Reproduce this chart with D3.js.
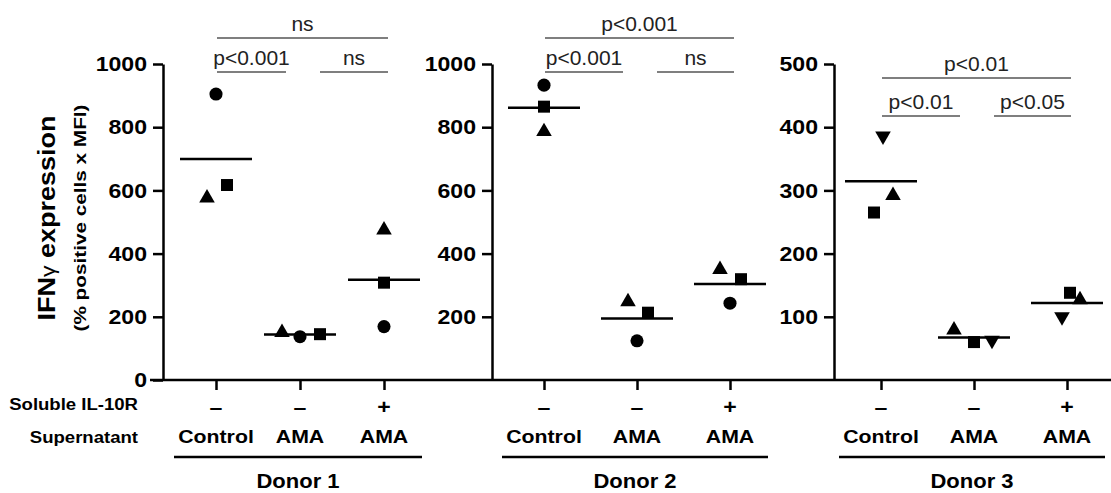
<!DOCTYPE html>
<html>
<head>
<meta charset="utf-8">
<script src="https://cdn.jsdelivr.net/npm/d3@7"></script>
<style>
  body { margin: 0; background: #fff; }
  text { font-family: "Liberation Sans", Arial, Helvetica, sans-serif; fill: #000; }
</style>
</head>
<body>
<script>
// =================== Data ======================
const donors = ["Donor 1", "Donor 2", "Donor 3"];
const conditions = ["ctrl", "ama", "amaR"];
const supernatantLabels = ["Control", "AMA", "AMA"];
const solubleLabels = ["\u2013", "\u2013", "+"];

const yMax = [1000, 1000, 500];
const yTicks = [
  [0, 200, 400, 600, 800, 1000],
  [200, 400, 600, 800, 1000],
  [100, 200, 300, 400, 500]
];

// values per marker, in condition order (Control, AMA, AMA + IL-10R)
const d1Circle   = [905, 137, 169];
const d1Square   = [617, 145, 308];
const d1Triangle = [576, 150, 475];
const d2Circle   = [933, 124, 243];
const d2Square   = [865, 213, 319];
const d2Triangle = [786, 248, 350];
const d3Down     = [386, 63, 100];
const d3Square   = [265, 60, 138];
const d3Triangle = [292, 79, 127];

const donorSeries = [
  [{shape: "circle", values: d1Circle}, {shape: "square", values: d1Square}, {shape: "triangle", values: d1Triangle}],
  [{shape: "circle", values: d2Circle}, {shape: "square", values: d2Square}, {shape: "triangle", values: d2Triangle}],
  [{shape: "down", values: d3Down}, {shape: "square", values: d3Square}, {shape: "triangle", values: d3Triangle}]
];

// significance: pairs of condition indices and their labels per donor
const sigPairs = [[0, 1], [1, 2], [0, 2]];
const sigLabels = [
  ["p<0.001", "ns", "ns"],
  ["p<0.001", "ns", "p<0.001"],
  ["p<0.01", "p<0.05", "p<0.01"]
];

// =================== Layout ======================
const W = 1111, H = 493;
const yBottom = 380, yTop = 64;
// [axis x, first category x, last category x]
const panelX = [[163, 216, 384], [492, 544, 730], [834, 881, 1067]];
// y of bracket lines (lower pair, lower pair, top) per panel
const sigLineY = [[72, 72, 38], [72, 72, 38], [116, 116, 78]];
// horizontal scatter of markers around the category, per series
const jitter = [
  [[0, 0, 0], [11, 20, 0], [-9, -18, 0]],
  [[0, 0, 0], [0, 11, 11], [0, -9, -10]],
  [[2, 18, -5], [-7, 0, 3], [12, -20, 13]]
];

const symbolType = {
  circle: d3.symbolCircle, square: d3.symbolSquare,
  triangle: d3.symbolTriangle, down: d3.symbolTriangle
};
const symbolSize = {circle: 135, square: 144, triangle: 105, down: 105};

var svg = d3.select("body").append("svg")
    .attr("width", W)
    .attr("height", H);

// bold label, slightly widened like the original lettering
function label(x, y, txt, size, anchor, stretch, rotate) {
  return svg.append("text")
      .attr("transform", "translate(" + x + "," + y + ")" +
            (rotate ? " rotate(" + rotate + ")" : "") +
            " scale(" + stretch + ",1)")
      .attr("text-anchor", anchor)
      .style("font-size", size + "px")
      .style("font-weight", "bold")
      .text(txt);
}

// y title
var title = label(55, 218, null, 23.5, "middle", 1.15, -90);
title.append("tspan").text("IFN");
title.append("tspan").style("font-weight", "normal").style("font-size", "20px").text("\u03b3");
title.append("tspan").text(" expression");
label(86, 218, "(% positive cells x MFI)", 17, "middle", 1.22, -90);

// row labels
label(138, 410, "Soluble IL-10R", 16, "end", 1.16);
label(138, 443, "Supernatant", 16, "end", 1.16);

// common baseline
svg.append("line")
    .attr("x1", 150).attr("x2", W)
    .attr("y1", yBottom).attr("y2", yBottom)
    .attr("stroke", "#000").attr("stroke-width", 2.5);

donors.forEach(function(donor, i) {
  var y = d3.scaleLinear().domain([0, yMax[i]]).range([yBottom, yTop]);
  var x = d3.scalePoint().domain(conditions).range([panelX[i][1], panelX[i][2]]);

  // y axis
  var ya = svg.append("g")
      .attr("transform", "translate(" + panelX[i][0] + ",0)")
      .call(d3.axisLeft(y).tickValues(yTicks[i]).tickFormat(d3.format("d"))
              .tickSize(10).tickSizeOuter(0).tickPadding(6));
  ya.selectAll("path, line").attr("stroke", "#000").attr("stroke-width", 2.5);
  ya.selectAll("text")
      .attr("x", null)
      .attr("transform", "translate(-16,0) scale(1.1,1)")
      .style("font-size", "21px").style("font-weight", "bold")
      .style("font-family", "'Liberation Sans', Arial, sans-serif");

  // x ticks
  var xa = svg.append("g")
      .attr("transform", "translate(0," + yBottom + ")")
      .call(d3.axisBottom(x).tickSize(10).tickFormat(""));
  xa.select(".domain").remove();
  xa.selectAll("line").attr("stroke", "#000").attr("stroke-width", 2.5);

  // mean lines
  conditions.forEach(function(c, j) {
    var m = d3.mean(donorSeries[i], function(s) { return s.values[j]; });
    svg.append("line")
        .attr("x1", x(c) - 36).attr("x2", x(c) + 36)
        .attr("y1", y(m)).attr("y2", y(m))
        .attr("stroke", "#000").attr("stroke-width", 2.5);
  });

  // points
  donorSeries[i].forEach(function(s, k) {
    svg.append("g").selectAll("path")
        .data(s.values)
        .enter()
        .append("path")
        .attr("d", d3.symbol().type(symbolType[s.shape]).size(symbolSize[s.shape]))
        .attr("transform", function(v, j) {
          return "translate(" + (x(conditions[j]) + jitter[i][k][j]) + "," + y(v) + ")" +
                 (s.shape === "down" ? " rotate(180)" : "");
        })
        .attr("fill", "#000");
  });

  // significance brackets
  sigPairs.forEach(function(p, k) {
    var x1 = x(conditions[p[0]]) + (p[0] > 0 ? 20 : 1);
    var x2 = x(conditions[p[1]]) + (p[1] < 2 ? -14 : 4);
    var ly = sigLineY[i][k];
    svg.append("line")
        .attr("x1", x1).attr("x2", x2)
        .attr("y1", ly).attr("y2", ly)
        .attr("stroke", "#555").attr("stroke-width", 1.5);
    svg.append("text")
        .attr("x", (x1 + x2) / 2).attr("y", ly - 7)
        .attr("text-anchor", "middle")
        .style("font-size", "21px")
        .style("fill", "#222")
        .text(sigLabels[i][k]);
  });

  // category labels
  conditions.forEach(function(c, j) {
    label(x(c), 414, solubleLabels[j], 21, "middle", 1.1);
    label(x(c), 443, supernatantLabels[j], 18.5, "middle", 1.15);
  });

  // donor underline and label
  var u1 = x(conditions[0]) - 42, u2 = x(conditions[2]) + 38;
  svg.append("line")
      .attr("x1", u1).attr("x2", u2)
      .attr("y1", 457).attr("y2", 457)
      .attr("stroke", "#000").attr("stroke-width", 2.5);
  label((u1 + u2) / 2, 488, donor, 20, "middle", 1.1);
});
</script>
</body>
</html>
